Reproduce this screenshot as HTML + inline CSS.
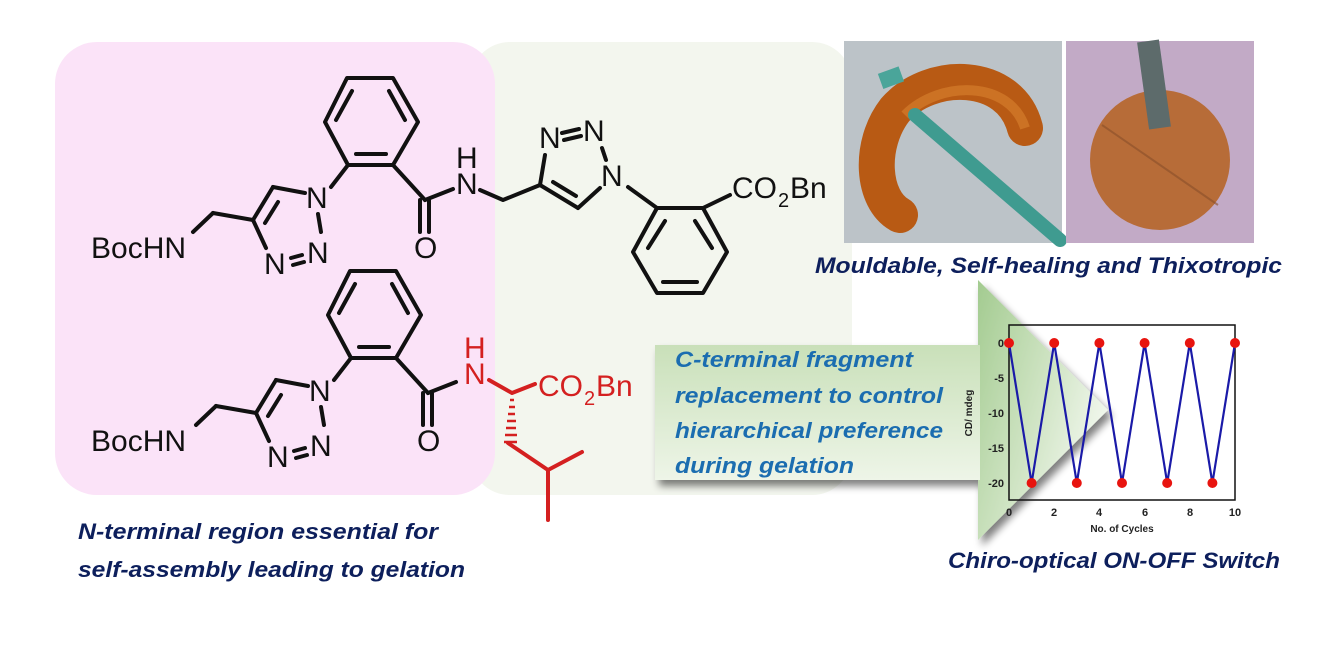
<!DOCTYPE html>
<html><head><meta charset="utf-8"><style>
html,body{margin:0;padding:0;background:#fff;}
svg{display:block;}
.t{font-family:"Liberation Sans",Arial,sans-serif;font-size:30px;}
.bi{font-family:"Liberation Sans",Arial,sans-serif;font-weight:bold;font-style:italic;}
</style></head><body>
<svg width="1326" height="649" viewBox="0 0 1326 649" xmlns="http://www.w3.org/2000/svg">
<defs>
<linearGradient id="cg" x1="0" y1="0" x2="0" y2="1">
<stop offset="0" stop-color="#c9e0b9"/><stop offset="1" stop-color="#eef5e8"/></linearGradient>
<linearGradient id="tg" x1="0" y1="0" x2="1" y2="0.6">
<stop offset="0" stop-color="#a3cb90"/><stop offset="0.6" stop-color="#d3e6c8"/><stop offset="1" stop-color="#f4f9f1"/></linearGradient>
<filter id="sh" x="-10%" y="-10%" width="130%" height="140%"><feGaussianBlur in="SourceAlpha" stdDeviation="4"/><feOffset dx="4" dy="6"/><feComponentTransfer><feFuncA type="linear" slope="0.5"/></feComponentTransfer><feMerge><feMergeNode/><feMergeNode in="SourceGraphic"/></feMerge></filter>
</defs>
<rect x="470" y="42" width="382" height="453" rx="40" fill="#f3f6ee"/>
<rect x="55" y="42" width="440" height="453" rx="42" fill="#fbe3f8"/>

<g id="mol" stroke="#111" stroke-width="4" fill="none" stroke-linecap="round" stroke-linejoin="round">
<polygon points="347,78 393,78 418,122 393,165 348,165 325,122"/>
<line x1="336" y1="120" x2="352" y2="91"/><line x1="389" y1="91" x2="405" y2="120"/><line x1="356" y1="154" x2="386" y2="154"/>
<line x1="348" y1="165" x2="331" y2="187"/>
<line x1="305" y1="193" x2="273" y2="187"/>
<line x1="273" y1="187" x2="253" y2="220"/>
<line x1="278" y1="202" x2="265" y2="223"/>
<line x1="253" y1="220" x2="266" y2="248"/>
<line x1="318" y1="214" x2="321" y2="232"/>
<line x1="291" y1="258" x2="302" y2="255"/><line x1="293" y1="265" x2="304" y2="262"/>
<line x1="253" y1="220" x2="213" y2="213"/>
<line x1="213" y1="213" x2="193" y2="232"/>
<line x1="393" y1="165" x2="425" y2="200"/>
<line x1="420" y1="200" x2="420" y2="232"/><line x1="429" y1="200" x2="429" y2="232"/>
<line x1="425" y1="200" x2="453" y2="189"/>
</g>
<g class="t" fill="#111">
<text x="91" y="258">BocHN</text>
<text x="306" y="208">N</text>
<text x="307" y="263">N</text>
<text x="264" y="274">N</text>
<text x="414" y="258">O</text>
</g>
<use href="#mol" transform="translate(3,193)"/>
<g class="t" fill="#111" transform="translate(3,193)">
<text x="88" y="258">BocHN</text>
<text x="306" y="208">N</text>
<text x="307" y="263">N</text>
<text x="264" y="274">N</text>
<text x="414" y="258">O</text>
</g>
<g class="t" fill="#111">
<text x="456" y="168">H</text>
<text x="456" y="194">N</text>
<text x="539" y="148">N</text>
<text x="583" y="141">N</text>
<text x="601" y="186">N</text>
<text x="732" y="198">CO</text><text x="778" y="207" style="font-size:20px">2</text><text x="790" y="198">Bn</text>
</g>
<g stroke="#111" stroke-width="4" fill="none" stroke-linecap="round" stroke-linejoin="round">
<polyline points="480,190 503,200 540,185"/>
<line x1="540" y1="185" x2="545" y2="155"/>
<line x1="562" y1="133" x2="579" y2="129"/><line x1="564" y1="140" x2="581" y2="136"/>
<line x1="602" y1="148" x2="606" y2="160"/>
<line x1="600" y1="188" x2="578" y2="208"/>
<line x1="578" y1="208" x2="540" y2="185"/>
<line x1="553" y1="182" x2="576" y2="196"/>
<line x1="628" y1="187" x2="657" y2="208"/>
<polygon points="657,208 703,208 727,252 703,293 657,293 633,252"/>
<line x1="665" y1="221" x2="648" y2="248"/><line x1="695" y1="221" x2="712" y2="248"/><line x1="663" y1="282" x2="697" y2="282"/>
<line x1="703" y1="208" x2="730" y2="195"/>
</g>
<g class="t" fill="#d42020">
<text x="464" y="358">H</text>
<text x="464" y="384">N</text>
<text x="538" y="396">CO</text><text x="584" y="405" style="font-size:20px">2</text><text x="596" y="396">Bn</text>
</g>
<g stroke="#d42020" stroke-width="4" fill="none" stroke-linecap="round" stroke-linejoin="round">
<polyline points="489,380 512,393 535,384"/>
<polyline points="508,443 548,470 582,452"/>
<line x1="548" y1="470" x2="548" y2="520"/>
</g>
<g stroke="#d42020" stroke-width="2.5">
<line x1="510" y1="400" x2="514" y2="400"/><line x1="509" y1="407" x2="515" y2="407"/><line x1="508" y1="414" x2="515" y2="414"/><line x1="507" y1="421" x2="516" y2="421"/><line x1="506" y1="428" x2="516" y2="428"/><line x1="505" y1="435" x2="517" y2="435"/><line x1="504" y1="442" x2="517" y2="442"/>
</g>

<rect x="844" y="41" width="218" height="202" fill="#bcc3c8"/>
<path d="M1025,128 C1010,70 930,70 895,110 C868,145 872,200 900,215" stroke="#b85a14" stroke-width="36" fill="none" stroke-linecap="round"/>
<path d="M1025,128 C1010,80 940,80 905,115" stroke="#d8822e" stroke-width="10" fill="none" opacity="0.6"/>
<rect x="880" y="70" width="22" height="16" fill="#4aa59a" transform="rotate(-20 890 78)"/>
<line x1="915" y1="115" x2="1060" y2="240" stroke="#3f9b90" stroke-width="14" stroke-linecap="round"/>
<rect x="1066" y="41" width="188" height="202" fill="#c2aac6"/>
<circle cx="1160" cy="160" r="70" fill="#b76c38"/>
<line x1="1102" y1="125" x2="1218" y2="205" stroke="#8a4f2a" stroke-width="2" opacity="0.6"/>
<line x1="1148" y1="41" x2="1160" y2="128" stroke="#5d6b6b" stroke-width="22"/>
<text class="bi" x="815" y="273" font-size="22" fill="#0d1f5c" textLength="467" lengthAdjust="spacingAndGlyphs">Mouldable, Self-healing and Thixotropic</text>

<g filter="url(#sh)">
<polygon points="978,280 1108,410 978,540" fill="url(#tg)"/>
<rect x="655" y="345" width="325" height="135" fill="url(#cg)"/>
</g>
<g class="bi" font-size="22" fill="#1b6db0">
<text x="675" y="367" textLength="238" lengthAdjust="spacingAndGlyphs">C-terminal fragment</text>
<text x="675" y="403" textLength="268" lengthAdjust="spacingAndGlyphs">replacement to control</text>
<text x="675" y="438" textLength="268" lengthAdjust="spacingAndGlyphs">hierarchical preference</text>
<text x="675" y="473" textLength="179" lengthAdjust="spacingAndGlyphs">during gelation</text>
</g>

<rect x="1009" y="325" width="226" height="175" fill="none" stroke="#111" stroke-width="1.5"/>
<polyline fill="none" stroke="#1a1aa8" stroke-width="2.2" points="1009,343 1031.6,483 1054.2,343 1076.8,483 1099.4,343 1122,483 1144.6,343 1167.2,483 1189.8,343 1212.4,483 1235,343"/>
<g fill="#e8140f">
<circle cx="1009" cy="343" r="5"/><circle cx="1031.6" cy="483" r="5"/><circle cx="1054.2" cy="343" r="5"/><circle cx="1076.8" cy="483" r="5"/><circle cx="1099.4" cy="343" r="5"/><circle cx="1122" cy="483" r="5"/><circle cx="1144.6" cy="343" r="5"/><circle cx="1167.2" cy="483" r="5"/><circle cx="1189.8" cy="343" r="5"/><circle cx="1212.4" cy="483" r="5"/><circle cx="1235" cy="343" r="5"/>
</g>
<g font-family="Liberation Sans,Arial,sans-serif" font-weight="bold" font-size="11" fill="#222">
<g text-anchor="end"><text x="1004" y="347">0</text><text x="1004" y="382">-5</text><text x="1004" y="417">-10</text><text x="1004" y="452">-15</text><text x="1004" y="487">-20</text></g>
<g text-anchor="middle"><text x="1009" y="516">0</text><text x="1054" y="516">2</text><text x="1099" y="516">4</text><text x="1145" y="516">6</text><text x="1190" y="516">8</text><text x="1235" y="516">10</text>
<text x="1122" y="532" font-size="10">No. of Cycles</text>
<text x="972" y="413" font-size="10" transform="rotate(-90 972 413)">CD/ mdeg</text></g>
</g>
<text class="bi" x="948" y="568" font-size="22" fill="#0d1f5c" textLength="332" lengthAdjust="spacingAndGlyphs">Chiro-optical ON-OFF Switch</text>

<text class="bi" x="78" y="539" font-size="22" fill="#0d1f5c" textLength="360" lengthAdjust="spacingAndGlyphs">N-terminal region essential for</text>
<text class="bi" x="78" y="577" font-size="22" fill="#0d1f5c" textLength="387" lengthAdjust="spacingAndGlyphs">self-assembly leading to gelation</text>
</svg>
</body></html>
